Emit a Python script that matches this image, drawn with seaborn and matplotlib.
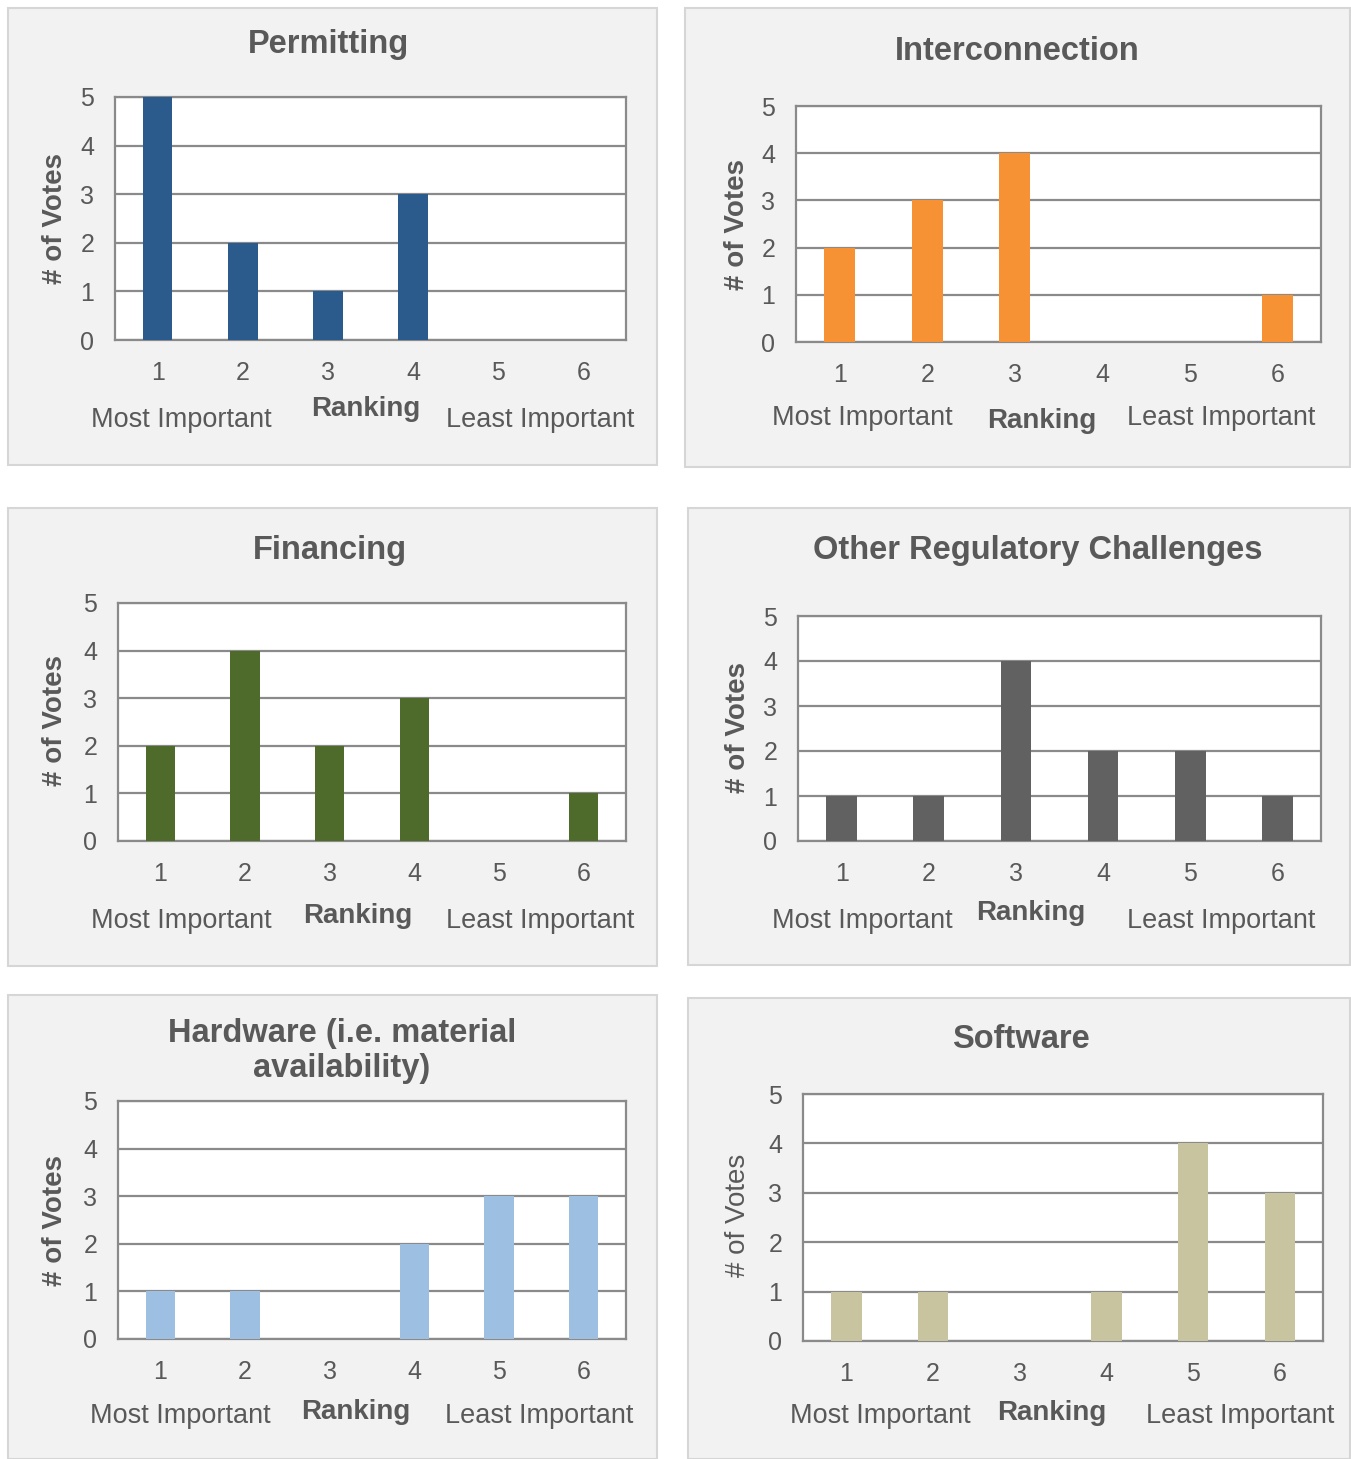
import matplotlib
matplotlib.use("Agg")
import matplotlib.pyplot as plt
import seaborn as sns
from matplotlib.patches import Rectangle

# ---- data ----
ranks = ["1", "2", "3", "4", "5", "6"]
titles = ["Permitting", "Interconnection", "Financing", "Other Regulatory Challenges",
          "Hardware (i.e. material\navailability)", "Software"]
permitting = [5, 2, 1, 3, 0, 0]
interconnection = [2, 3, 4, 0, 0, 1]
financing = [2, 4, 2, 3, 0, 1]
other_regulatory = [1, 1, 4, 2, 2, 1]
hardware = [1, 1, 0, 2, 3, 3]
software = [1, 1, 0, 1, 4, 3]
series = [permitting, interconnection, financing, other_regulatory, hardware, software]
colors = ["#2B5A8D", "#F79234", "#4E6B2B", "#616161", "#9DBFE1", "#C9C4A0"]
y_label = "# of Votes"
x_label = "Ranking"
left_note = "Most Important"
right_note = "Least Important"

W, H = 1351, 1459
sns.set_theme(style="white")
plt.rcParams['font.family'] = ['Liberation Sans', 'DejaVu Sans']
fig = plt.figure(figsize=(W / 100, H / 100), dpi=100)
fig.patch.set_facecolor("white")

TXT = "#595959"

def fx(x):
    return x / W

def fy(y):
    return 1 - y / H

layout = [
    dict(box=(8, 8, 657, 465), plot=(115, 97, 626, 340), title=(328, 44), ylab=(55, 218),
         mi=181, rk=(366, 409), li=540, ny=420, bold=True),
    dict(box=(685, 8, 1350, 467), plot=(796, 106, 1321, 342), title=(1017, 52), ylab=(737, 225),
         mi=862, rk=(1042, 421), li=1221, ny=418, bold=True),
    dict(box=(8, 508, 657, 966), plot=(118, 603, 626, 841), title=(330, 550), ylab=(55, 720),
         mi=181, rk=(358, 916), li=540, ny=921, bold=True),
    dict(box=(688, 508, 1350, 965), plot=(798, 616, 1321, 841), title=(1038, 550), ylab=(738, 728),
         mi=862, rk=(1031, 913), li=1221, ny=921, bold=True),
    dict(box=(8, 995, 657, 1459), plot=(118, 1101, 626, 1339), title=(342, 1051), ylab=(55, 1220),
         mi=180, rk=(356, 1412), li=539, ny=1416, bold=True),
    dict(box=(688, 998, 1350, 1459), plot=(803, 1094, 1323, 1341), title=(1021, 1040), ylab=(738, 1215),
         mi=880, rk=(1052, 1413), li=1240, ny=1416, bold=False),
]

for vals, col, ttl, L in zip(series, colors, titles, layout):
    x0, y0, x1, y1 = L["box"]
    fig.add_artist(Rectangle((fx(x0), fy(y1)), fx(x1 - x0), (y1 - y0) / H,
                             transform=fig.transFigure, facecolor="#F2F2F2",
                             edgecolor="#D6D6D6", linewidth=1.5, zorder=0))
    px0, py0, px1, py1 = L["plot"]
    ax = fig.add_axes([fx(px0), fy(py1), fx(px1 - px0), (py1 - py0) / H])
    ax.set_facecolor("white")
    sns.barplot(x=ranks, y=vals, color=col, saturation=1, width=0.35,
                errorbar=None, ax=ax, zorder=3, linewidth=0, edgecolor="none")
    ax.set_xlim(-0.5, 5.5)
    ax.set_ylim(0, 5)
    ax.set_yticks(range(6))
    ax.set_axisbelow(True)
    ax.yaxis.grid(True, color="#8A8A8A", linewidth=1.6)
    ax.xaxis.grid(False)
    for s in ax.spines.values():
        s.set_color("#8A8A8A")
        s.set_linewidth(1.6)
        s.set_visible(True)
    ax.tick_params(axis="both", length=0, labelsize=18, labelcolor=TXT)
    ax.tick_params(axis="y", pad=15)
    ax.tick_params(axis="x", pad=15)
    ax.set_xlabel("")
    ax.set_ylabel("")
    tx, ty = L["title"]
    fig.text(fx(tx), fy(ty), ttl, ha="center", va="center", fontsize=23.5,
             fontweight="bold", color=TXT, linespacing=1.15)
    yx, yy = L["ylab"]
    fig.text(fx(yx), fy(yy), y_label, ha="center", va="center", rotation=90,
             fontsize=20, fontweight="bold" if L["bold"] else "normal", color=TXT)
    fig.text(fx(L["mi"]), fy(L["ny"]), left_note, ha="center", va="center",
             fontsize=19.5, color=TXT)
    fig.text(fx(L["li"]), fy(L["ny"]), right_note, ha="center", va="center",
             fontsize=19.5, color=TXT)
    rx, ry = L["rk"]
    fig.text(fx(rx), fy(ry), x_label, ha="center", va="center", fontsize=20,
             fontweight="bold", color=TXT)

fig.savefig("out.png", dpi=100, facecolor="white")
